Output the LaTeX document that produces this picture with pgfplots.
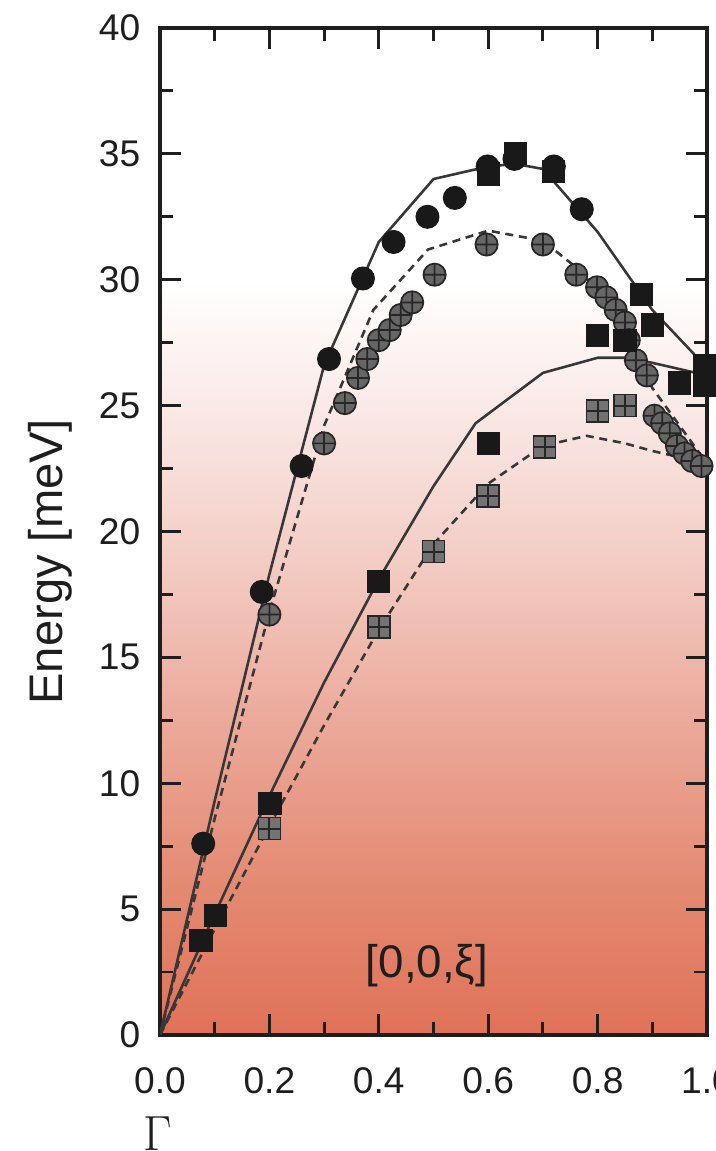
\documentclass[border=0pt]{standalone}
\usepackage{fontspec}
\setmainfont{Liberation Sans}
\usepackage{pgfplots}
\pgfplotsset{compat=1.18}
\usetikzlibrary{calc}

% background colours, bottom (E=0) to white (E~30)
\definecolor{bg0}{RGB}{223,114,88}
\definecolor{bg6}{RGB}{228,138,114}
\definecolor{bg13}{RGB}{236,172,157}
\definecolor{bg19}{RGB}{243,205,197}
\definecolor{bg26}{RGB}{251,238,236}
\definecolor{ink}{RGB}{30,30,30}
\definecolor{lin}{RGB}{55,55,55}
% 25bp = bottom of axis, 75bp = top of axis
\pgfdeclareverticalshading{bgshade}{100bp}{color(0bp)=(bg0); color(25bp)=(bg0); color(32.5bp)=(bg6); color(41.25bp)=(bg13); color(48.75bp)=(bg19); color(57.5bp)=(bg26); color(62.5bp)=(white); color(100bp)=(white)}

\begin{document}
\begin{tikzpicture}
\begin{axis}[
  scale only axis,
  width=191.45pt, height=352.45pt,
  xmin=0, xmax=1, ymin=0, ymax=40,
  xtick={0,0.2,0.4,0.6,0.8,1.0},
  ytick={0,5,...,40},
  minor x tick num=1, minor y tick num=1,
  tick align=inside,
  major tick length=7.5pt, minor tick length=4.5pt,
  tick style={line width=1pt, ink},
  axis line style={line width=1.4pt, ink},
  ticklabel style={font=\fontsize{13}{15}\selectfont, text=ink},
  /pgf/number format/assume math mode=true,
  xticklabel style={/pgf/number format/fixed, /pgf/number format/fixed zerofill, /pgf/number format/precision=1, yshift=-8pt},
  yticklabel style={xshift=-3.4pt},
  ylabel={Energy [meV]},
  ylabel style={font=\fontsize{16.5}{18}\selectfont, text=ink, at={(axis description cs:-0.201,0.47)}, anchor=center},
  axis background/.style={shade, shading=bgshade},
]
\coordinate (sw) at (rel axis cs:0,0);
\coordinate (ne) at (rel axis cs:1,1);

% model curves
\addplot[lin, line width=0.9pt] coordinates {
  (0,0) (0.1,9.3) (0.2,18.3) (0.3,26.6) (0.4,31.5) (0.5,34.0) (0.6,34.5)
  (0.65,34.6) (0.7,34.4) (0.8,31.9) (0.9,28.8) (1.0,26.5)};
\addplot[lin, line width=0.9pt, dash pattern=on 2.8pt off 2pt] coordinates {
  (0,0) (0.1,8.6) (0.2,16.8) (0.3,24.2) (0.39,28.8) (0.49,31.2) (0.6,31.95)
  (0.7,31.55) (0.76,30.5) (0.8,29.6) (0.85,28.0) (0.9,25.7) (1.0,22.7)};
\addplot[lin, line width=0.9pt] coordinates {
  (0,0) (0.1,4.8) (0.2,9.5) (0.3,14.0) (0.4,18.1) (0.5,21.8) (0.577,24.3)
  (0.7,26.3) (0.8,26.9) (0.85,26.9) (0.9,26.7) (1.0,26.2)};
\addplot[lin, line width=0.9pt, dash pattern=on 2.8pt off 2pt] coordinates {
  (0,0) (0.1,4.2) (0.2,8.3) (0.3,12.3) (0.4,16.1) (0.5,19.5) (0.6,21.9)
  (0.7,23.4) (0.78,23.8) (0.85,23.5) (0.9,23.2) (1.0,22.7)};

% hatched circles
\addplot[only marks, mark=oplus*, mark size=3.9pt, mark options={fill=black!60, draw=black!85, line width=0.6pt}] coordinates {
  (0.2,16.7) (0.30,23.5) (0.338,25.1) (0.362,26.1) (0.379,26.85) (0.40,27.6)
  (0.42,28.0) (0.44,28.6) (0.461,29.1) (0.502,30.2) (0.597,31.4) (0.70,31.4)
  (0.761,30.2) (0.799,29.7) (0.816,29.3) (0.833,28.8) (0.85,28.3) (0.857,27.6)
  (0.87,26.8) (0.89,26.2) (0.904,24.6) (0.918,24.3) (0.932,23.9) (0.945,23.4)
  (0.959,23.1) (0.973,22.8) (0.99,22.6)};

% hatched squares
\addplot[only marks, mark=square*, mark size=3.85pt, mark options={fill=black!55, draw=black!85, line width=0.6pt}] coordinates {
  (0.2,8.2) (0.40,16.2) (0.50,19.2) (0.60,21.4) (0.703,23.35) (0.80,24.8) (0.85,25.0)};
\addplot[only marks, mark=+, mark size=3.85pt, mark options={draw=black!85, line width=0.7pt}] coordinates {
  (0.2,8.2) (0.40,16.2) (0.50,19.2) (0.60,21.4) (0.703,23.35) (0.80,24.8) (0.85,25.0)};

% filled squares
\addplot[only marks, mark=square*, mark size=3.85pt, mark options={fill=black!90, draw=black!90}] coordinates {
  (0.075,3.77) (0.102,4.76) (0.201,9.2) (0.40,18.0) (0.60,23.5) (0.60,34.2)
  (0.65,35.0) (0.72,34.3) (0.80,27.8) (0.85,27.6) (0.88,29.4) (0.90,28.2)
  (0.949,25.9) (0.995,26.6) (0.995,25.8)};

% filled circles
\addplot[only marks, mark=*, mark size=4pt, mark options={fill=black!90, draw=black!90}] coordinates {
  (0.079,7.6) (0.186,17.6) (0.259,22.6) (0.309,26.85) (0.371,30.05) (0.427,31.5)
  (0.489,32.5) (0.539,33.25) (0.599,34.5) (0.648,34.8) (0.72,34.5) (0.771,32.8)};

\node[font=\fontsize{16}{18}\selectfont, text=ink] at (axis cs:0.488,2.74) {[0,0,ξ]};
\end{axis}
\node[font=\fontsize{19}{20}\selectfont, text=ink, inner sep=0pt] at ($(sw)+(-0.7pt,-34.5pt)$) {$\Gamma$};
\pgfresetboundingbox
\path[use as bounding box] ($(sw)+(-56pt,-40.6pt)$) rectangle ($(ne)+(3.15pt,9.8pt)$);
\end{tikzpicture}
\end{document}
